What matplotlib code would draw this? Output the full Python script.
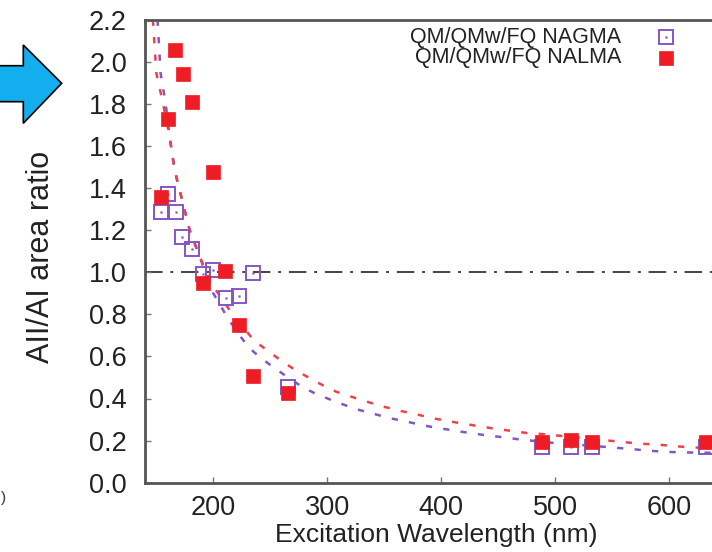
import numpy as np
import matplotlib
matplotlib.use('Agg')
import matplotlib.pyplot as plt
from matplotlib.patches import Polygon

plt.rcParams['font.family'] = ['Liberation Sans', 'DejaVu Sans']

# measured area ratios
wl_nagma = [154.3, 160.1, 166.9, 172.8, 181.6, 190.9, 199.6, 210.8, 222.2, 234.8, 265.5,
            488.5, 514.0, 532.0, 632.5]
ratio_nagma = [1.287, 1.370, 1.287, 1.166, 1.109, 0.991, 1.010, 0.876, 0.888, 0.995, 0.453,
               0.171, 0.171, 0.171, 0.171]

wl_nalma = [154.3, 160.1, 166.6, 173.7, 181.6, 190.9, 199.6, 210.5, 222.2, 234.8, 265.5,
            488.5, 514.0, 532.0, 632.5]
ratio_nalma = [1.355, 1.728, 2.056, 1.942, 1.810, 0.947, 1.477, 1.007, 0.749, 0.507, 0.428,
               0.195, 0.203, 0.195, 0.195]

# fitted trend lines
fit_x_nagma = [151.0, 153.7, 158.1, 161.6, 166.0, 168.9, 173.3, 179.2, 188.0, 199.6, 212.8,
               221.6, 231.9, 242.1, 252.9, 265.5, 277.3, 288.9, 302.1, 315.3, 328.4, 341.6,
               355.4, 370.0, 383.5, 397.2, 411.9, 426.5, 439.7, 454.3, 468.3, 496.8, 553.8,
               568.4, 582.4, 596.2, 610.9, 625.2, 660.0]
fit_y_nagma = [2.20, 1.945, 1.802, 1.644, 1.486, 1.422, 1.327, 1.200, 1.074, 0.903, 0.781,
               0.710, 0.638, 0.591, 0.548, 0.500, 0.458, 0.425, 0.396, 0.369, 0.345, 0.326,
               0.306, 0.290, 0.273, 0.260, 0.247, 0.235, 0.225, 0.216, 0.206, 0.190, 0.166,
               0.159, 0.152, 0.147, 0.144, 0.143, 0.140]

fit_x_nalma = [146.9, 150.0, 155.8, 161.6, 166.0, 168.9, 173.3, 179.2, 188.0, 198.2, 217.2,
               235.4, 245.9, 258.8, 270.5, 282.2, 295.7, 308.0, 322.6, 336.6, 349.8, 364.2,
               378.2, 391.9, 406.0, 419.8, 433.8, 448.5, 462.2, 475.3, 489.1, 504.0, 547.1,
               562.0, 576.0, 590.3, 604.1, 618.8, 660.0]
fit_y_nalma = [2.20, 1.945, 1.802, 1.644, 1.486, 1.422, 1.327, 1.200, 1.074, 0.947, 0.797,
               0.678, 0.634, 0.583, 0.540, 0.504, 0.464, 0.432, 0.406, 0.382, 0.361, 0.341,
               0.325, 0.307, 0.293, 0.280, 0.268, 0.255, 0.246, 0.236, 0.231, 0.223, 0.200,
               0.192, 0.185, 0.181, 0.174, 0.168, 0.160]

xticks = [200, 300, 400, 500, 600]
yticks = [0.0, 0.2, 0.4, 0.6, 0.8, 1.0, 1.2, 1.4, 1.6, 1.8, 2.0, 2.2]

PURPLE = '#8456c4'
RED = '#ee1c25'
GRAY = '#555555'
TEXT = '#222222'


def main():
    fig = plt.figure(figsize=(7.12, 5.52), dpi=100)
    ax = fig.add_axes([145 / 712, 69.3 / 552, 592.3 / 712, 463.1 / 552])
    ax.set_xlim(140, 660)
    ax.set_ylim(0, 2.2)

    # reference level
    ax.axhline(1.0, color='#444444', lw=1.4, dashes=(9, 4, 1.5, 4), zorder=1)

    ax.plot(fit_x_nagma, fit_y_nagma, color=PURPLE, lw=1.8, dashes=(2.5, 4.5), zorder=2)
    ax.plot(fit_x_nalma, fit_y_nalma, color='#f0404a', lw=1.8, dashes=(2.5, 4.5), zorder=2)

    ax.plot(wl_nagma, ratio_nagma, ls='none', marker='s', ms=10, mfc='none',
            mec=PURPLE, mew=1.4, zorder=3)
    ax.plot(wl_nagma, ratio_nagma, ls='none', marker='s', ms=1.2, mfc=PURPLE,
            mec=PURPLE, mew=0.3, zorder=3)
    ax.plot(wl_nalma, ratio_nalma, ls='none', marker='s', ms=10, mfc=RED,
            mec=RED, mew=0.5, zorder=4)

    # legend, drawn by hand
    ax.text(558, 2.117, 'QM/QMw/FQ NAGMA', ha='right', va='center', fontsize=15.5, color=TEXT)
    ax.text(558, 2.018, 'QM/QMw/FQ NALMA', ha='right', va='center', fontsize=15.5, color=TEXT)
    ax.plot([597], [2.117], ls='none', marker='s', ms=9.5, mfc='none', mec=PURPLE, mew=1.4)
    ax.plot([597], [2.117], ls='none', marker='s', ms=1.2, mfc=PURPLE, mec=PURPLE, mew=0.3)
    ax.plot([597], [2.018], ls='none', marker='s', ms=9.5, mfc=RED, mec=RED, mew=0.5)

    ax.set_xticks(xticks)
    ax.set_yticks(yticks)
    ax.set_yticklabels([f'{v:.1f}' for v in yticks])
    ax.tick_params(direction='in', length=4, width=1, color='#777777',
                   labelsize=19.5, labelcolor=TEXT)
    ax.tick_params(axis='y', pad=13)
    ax.tick_params(axis='x', pad=9)

    for side in ('left', 'bottom', 'top'):
        ax.spines[side].set_color(GRAY)
        ax.spines[side].set_linewidth(2)
    ax.spines['right'].set_visible(False)

    ax.set_xlabel('Excitation Wavelength (nm)', fontsize=19, color=TEXT)
    ax.xaxis.set_label_coords(0.491, -0.087)
    ax.set_ylabel('AII/AI area ratio', fontsize=22, color=TEXT)
    ax.yaxis.set_label_coords(-0.15, 0.487)

    # blue arrow on the left
    W, H = 712, 552
    pts = [(-10, 65.7), (23.3, 65.7), (23.3, 45), (61.7, 83.3), (23.3, 123.3),
           (23.3, 101.7), (-10, 101.7)]
    arrow = Polygon([(x / W, 1 - y / H) for x, y in pts], closed=True,
                    transform=fig.transFigure, facecolor='#12aeee',
                    edgecolor='black', lw=1.2)
    fig.patches.append(arrow)
    fig.text(0.001, 1 - 498 / H, ')', fontsize=11, color='#333333', va='center')

    fig.savefig('out.png', dpi=100)


if __name__ == "__main__":
    main()
